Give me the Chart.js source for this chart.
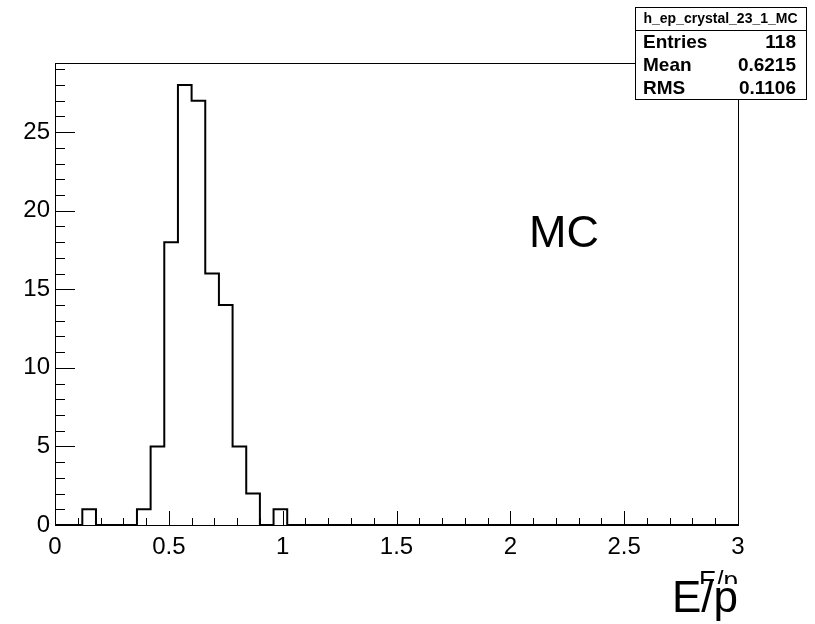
<!DOCTYPE html>
<html>
<head>
<meta charset="utf-8">
<script src="https://cdn.jsdelivr.net/npm/chart.js@4.4.3/dist/chart.umd.min.js"></script>
<style>
  html, body { margin: 0; padding: 0; background: #fff; }
  #wrap { width: 815px; height: 624px; }
</style>
</head>
<body>
<div id="wrap"><canvas id="hist" width="815" height="624"></canvas></div>
<script>
// ─────────────────────────────────────────────────────────────────────────────
// Data: h_ep_crystal_23_1_MC, 50 bins on [0, 3]
// ─────────────────────────────────────────────────────────────────────────────

const histName = 'h_ep_crystal_23_1_MC';
const xMin = 0;
const xMax = 3;
const binWidth = 0.06;
const counts = [
  0, 0, 1, 0, 0, 0, 1, 5, 18, 28,
  27, 16, 14, 5, 2, 0, 1, 0, 0, 0,
  0, 0, 0, 0, 0, 0, 0, 0, 0, 0,
  0, 0, 0, 0, 0, 0, 0, 0, 0, 0,
  0, 0, 0, 0, 0, 0, 0, 0, 0, 0,
];
const statLabels = ['Entries', 'Mean', 'RMS'];
const statValues = ['118', '0.6215', '0.1106'];
const xTickStep = 0.5;
const yTickStep = 5;
const yMax = 29.4;
const xTitle = 'E/p';
const sampleLabel = 'MC';

const FONT = "'Liberation Sans', Arial, Helvetica, sans-serif";

// bin left edges carry the bin content; closing point at xMax
const points = counts.map((c, i) => ({ x: xMin + i * binWidth, y: c }));
points.push({ x: xMax, y: 0 });

// ─────────────────────────────────────────────────────────────────────────────
// ROOT-style frame, inward ticks, stats box, labels
// ─────────────────────────────────────────────────────────────────────────────

const rootFrame = {
  id: 'rootFrame',
  beforeDatasetsDraw(chart) {
    const { ctx, chartArea: a, scales: { x, y } } = chart;
    ctx.save();
    ctx.strokeStyle = '#000';
    ctx.lineWidth = 1;
    ctx.strokeRect(a.left + 0.5, a.top + 0.5, a.right - a.left, a.bottom - a.top);

    ctx.beginPath();
    // x ticks: major every 0.5, minor every 0.1
    for (let k = 0; k <= 30; k++) {
      const v = k * 0.1;
      const px = Math.round(x.getPixelForValue(v)) + 0.5;
      const len = k % 5 === 0 ? 14 : 7;
      ctx.moveTo(px, a.bottom);
      ctx.lineTo(px, a.bottom - len);
    }
    // y ticks: major every 5, minor every 1
    for (let v = 0; v <= Math.floor(yMax); v++) {
      const py = Math.round(y.getPixelForValue(v)) + 0.5;
      const len = v % 5 === 0 ? 20 : 10;
      ctx.moveTo(a.left, py);
      ctx.lineTo(a.left + len, py);
    }
    ctx.stroke();
    ctx.restore();
  },
  afterDraw(chart) {
    const { ctx } = chart;
    ctx.save();

    // "MC" label
    ctx.fillStyle = '#000';
    ctx.font = `45px ${FONT}`;
    ctx.textAlign = 'left';
    ctx.textBaseline = 'alphabetic';
    ctx.fillText(sampleLabel, 529, 247);

    // small, clipped duplicate of the axis title
    ctx.save();
    ctx.beginPath();
    ctx.rect(680, 555, 80, 29);
    ctx.clip();
    ctx.font = `26px ${FONT}`;
    ctx.textAlign = 'right';
    ctx.fillText(xTitle, 738, 589);
    ctx.restore();

    // stats box: title row + one row per stat, equal heights
    const bx = 635, by = 7, bw = 171, bh = 92;
    const rowH = bh / (statLabels.length + 1);
    const sep = by + rowH;
    ctx.fillStyle = '#fff';
    ctx.fillRect(bx, by, bw, bh);
    ctx.strokeStyle = '#000';
    ctx.lineWidth = 1;
    ctx.strokeRect(bx + 0.5, by + 0.5, bw, bh);
    ctx.beginPath();
    ctx.moveTo(bx, Math.round(sep) + 0.5);
    ctx.lineTo(bx + bw, Math.round(sep) + 0.5);
    ctx.stroke();

    ctx.fillStyle = '#000';
    ctx.font = `bold 14px ${FONT}`;
    ctx.textAlign = 'center';
    ctx.textBaseline = 'middle';
    ctx.fillText(histName, bx + bw / 2, by + rowH / 2 + 1);

    ctx.font = `bold 19px ${FONT}`;
    statLabels.forEach((lab, i) => {
      const cy = sep + rowH * (i + 0.5) + 1;
      ctx.textAlign = 'left';
      ctx.fillText(lab, bx + 8, cy);
      ctx.textAlign = 'right';
      ctx.fillText(statValues[i], bx + bw - 10, cy);
    });
    ctx.restore();
  },
};

new Chart(document.getElementById('hist'), {
  type: 'line',
  data: {
    datasets: [{
      label: histName,
      data: points,
      stepped: 'before',
      borderColor: '#000',
      borderWidth: 2,
      pointRadius: 0,
      fill: false,
      clip: 4,
    }],
  },
  options: {
    responsive: false,
    animation: false,
    layout: { padding: { left: 0, right: 77, top: 63, bottom: 0 } },
    plugins: { legend: { display: false }, tooltip: { enabled: false } },
    scales: {
      x: {
        type: 'linear',
        min: xMin,
        max: xMax,
        afterFit: s => { s.height = 99; },
        grid: { display: false, drawTicks: false },
        border: { display: false },
        ticks: {
          stepSize: xTickStep,
          padding: 8,
          color: '#000',
          font: { family: FONT, size: 24 },
          maxRotation: 0,
          autoSkip: false,
          callback: v => String(v),
        },
        title: {
          display: true,
          text: xTitle,
          align: 'end',
          color: '#000',
          font: { family: FONT, size: 44, lineHeight: 1 },
          padding: { top: 0, bottom: 2 },
        },
      },
      y: {
        min: 0,
        max: yMax,
        afterFit: s => { s.width = 55; },
        grid: { display: false, drawTicks: false },
        border: { display: false },
        ticks: {
          stepSize: yTickStep,
          includeBounds: false,
          padding: 5,
          color: '#000',
          font: { family: FONT, size: 24 },
        },
      },
    },
  },
  plugins: [rootFrame],
});
</script>
</body>
</html>
